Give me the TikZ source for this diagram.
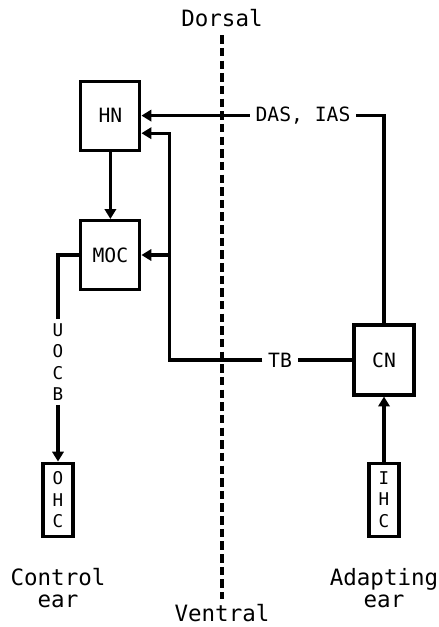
\documentclass[tikz,border=0pt]{standalone}
\usepackage{fontspec}
\setmonofont{DejaVu Sans Mono}
\usetikzlibrary{arrows.meta,positioning}

\begin{document}
\begin{tikzpicture}[>={Triangle[length=7pt,width=8pt]},line width=2.2pt,
  bx/.style={draw,minimum width=1.475cm,minimum height=1.725cm,inner sep=0pt,font=\ttfamily\fontsize{14}{16}\selectfont},
  hc/.style={draw,minimum width=0.75cm,minimum height=1.825cm,inner sep=0pt,align=center,font=\ttfamily\fontsize{12.5}{15.2}\selectfont},
  lbl/.style={font=\ttfamily\fontsize{14}{16}\selectfont,inner sep=3pt},
  big/.style={font=\ttfamily\fontsize{16}{15.5}\selectfont,align=center,inner sep=1pt}]
  \useasboundingbox (0,0) rectangle (10.975,-15.675);
  % midline
  \node[big] (dorsal) at (5.55,-0.45) {Dorsal};
  \node[big] (ventral) at (5.55,-15.33) {Ventral};
  \draw[dash pattern=on 6pt off 3pt] ([yshift=-4pt]dorsal.south) -- ([yshift=2pt]ventral.north);
  % nuclei
  \node[bx] (hn) at (2.76,-2.89) {HN};
  \node[bx] (moc) at (2.76,-6.375) {MOC};
  \node[bx,minimum width=1.5cm,minimum height=1.75cm] (cn) at (9.6,-9.0) {CN};
  % hair cells
  \node[hc] (ohc) at (1.45,-12.49) {O\\H\\C};
  \node[hc] (ihc) at (9.6,-12.49) {I\\H\\C};
  \node[big] (ctrl) at (1.45,-14.7) {Control\\ear};
  \node[big] (adapt) at (9.6,-14.7) {Adapting\\ear};
  % pathways
  \node[lbl] (das) at (7.575,-2.89) {DAS, IAS};
  \node[lbl] (tb) at (7.0,-9.0) {TB};
  \node[hc,draw=none,minimum height=0pt,inner sep=2pt] (uocb) at (1.45,-9.05) {U\\O\\C\\B};
  \coordinate (split) at (4.23,-6.375);
  \draw (cn.north) |- (das.east);
  \draw[->] (das.west) -- (hn.east);
  \draw (cn.west) -- (tb.east);
  \draw[->] (tb.west) -| (split) |- ([yshift=-0.44cm]hn.east);
  \draw[->] (split) -- (moc.east);
  \draw[->] (hn) -- (moc);
  \draw (moc.west) -| (uocb.north);
  \draw[->] (uocb.south) -- (ohc.north);
  \draw[->] (ihc) -- (cn);
\end{tikzpicture}
\end{document}
